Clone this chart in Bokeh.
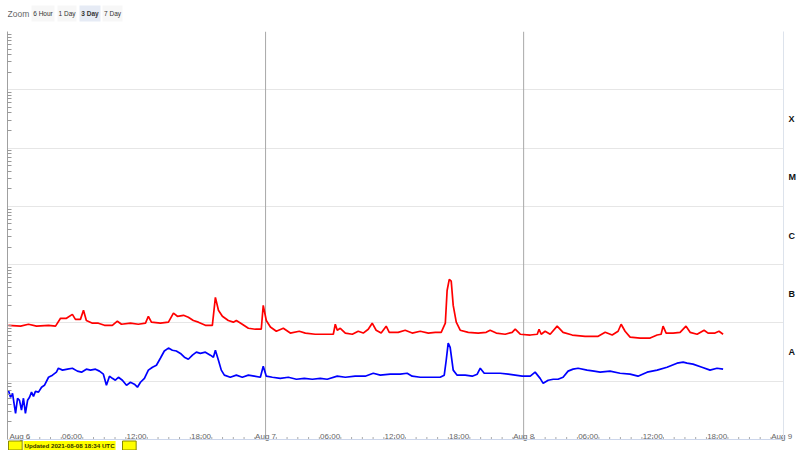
import pandas as pd
from bokeh.plotting import figure
from bokeh.layouts import column
from bokeh.models import (Range1d, FixedTicker, CustomJSTickFormatter, LogAxis, Span, Label)
from bokeh.core.properties import value
from bokeh.embed import file_html
from bokeh.resources import INLINE

# ---------------- data ----------------
long_times = [
    "2021-08-06 00:05", "2021-08-06 01:13", "2021-08-06 01:57", "2021-08-06 02:42", "2021-08-06 03:49",
    "2021-08-06 04:28", "2021-08-06 04:56", "2021-08-06 05:29", "2021-08-06 06:02", "2021-08-06 06:19",
    "2021-08-06 06:47", "2021-08-06 07:04", "2021-08-06 07:20", "2021-08-06 07:54", "2021-08-06 08:27",
    "2021-08-06 09:01", "2021-08-06 09:45", "2021-08-06 10:13", "2021-08-06 10:36", "2021-08-06 11:26",
    "2021-08-06 12:10", "2021-08-06 12:50", "2021-08-06 13:06", "2021-08-06 13:23", "2021-08-06 14:13",
    "2021-08-06 14:58", "2021-08-06 15:26", "2021-08-06 15:48", "2021-08-06 16:22", "2021-08-06 16:49",
    "2021-08-06 17:17", "2021-08-06 17:45", "2021-08-06 18:24", "2021-08-06 19:03", "2021-08-06 19:20",
    "2021-08-06 19:37", "2021-08-06 19:59", "2021-08-06 20:32", "2021-08-06 21:00", "2021-08-06 21:17",
    "2021-08-06 21:50", "2021-08-06 22:24", "2021-08-06 23:03", "2021-08-06 23:36", "2021-08-06 23:47",
    "2021-08-07 00:04", "2021-08-07 00:27", "2021-08-07 01:00", "2021-08-07 01:39", "2021-08-07 02:18",
    "2021-08-07 03:08", "2021-08-07 03:42", "2021-08-07 04:37", "2021-08-07 05:33", "2021-08-07 06:18",
    "2021-08-07 06:29", "2021-08-07 06:40", "2021-08-07 06:57", "2021-08-07 07:25", "2021-08-07 08:04",
    "2021-08-07 08:37", "2021-08-07 09:05", "2021-08-07 09:33", "2021-08-07 09:55", "2021-08-07 10:17",
    "2021-08-07 10:45", "2021-08-07 11:13", "2021-08-07 11:30", "2021-08-07 12:20", "2021-08-07 12:59",
    "2021-08-07 13:38", "2021-08-07 14:23", "2021-08-07 15:08", "2021-08-07 15:47", "2021-08-07 16:20",
    "2021-08-07 16:43", "2021-08-07 16:53", "2021-08-07 17:05", "2021-08-07 17:16", "2021-08-07 17:27",
    "2021-08-07 17:44", "2021-08-07 18:06", "2021-08-07 18:51", "2021-08-07 19:46", "2021-08-07 20:31",
    "2021-08-07 20:53", "2021-08-07 21:27", "2021-08-07 22:17", "2021-08-07 22:56", "2021-08-07 23:13",
    "2021-08-07 23:41", "2021-08-08 00:37", "2021-08-08 01:16", "2021-08-08 01:26", "2021-08-08 01:38",
    "2021-08-08 02:00", "2021-08-08 02:28", "2021-08-08 03:07", "2021-08-08 03:40", "2021-08-08 04:31",
    "2021-08-08 05:43", "2021-08-08 06:56", "2021-08-08 07:35", "2021-08-08 08:14", "2021-08-08 08:47",
    "2021-08-08 09:04", "2021-08-08 09:26", "2021-08-08 09:54", "2021-08-08 10:50", "2021-08-08 11:46",
    "2021-08-08 12:25", "2021-08-08 12:47", "2021-08-08 12:58", "2021-08-08 13:15", "2021-08-08 13:54",
    "2021-08-08 14:33", "2021-08-08 15:06", "2021-08-08 15:29", "2021-08-08 16:08", "2021-08-08 16:47",
    "2021-08-08 17:09", "2021-08-08 17:48", "2021-08-08 18:10", "2021-08-08 18:33",
]
long_flux = [
    9.1e-8, 8.8e-8, 9.5e-8, 8.8e-8, 9.1e-8,
    8.8e-8, 1.2e-7, 1.2e-7, 1.4e-7, 1.15e-7,
    1.15e-7, 1.65e-7, 1.1e-7, 9.9e-8, 9.9e-8,
    9.1e-8, 9.1e-8, 1.07e-7, 9.5e-8, 9.9e-8,
    9.5e-8, 9.9e-8, 1.3e-7, 1.03e-7, 9.9e-8,
    1.03e-7, 1.47e-7, 1.3e-7, 1.35e-7, 1.25e-7,
    1.1e-7, 1.03e-7, 9.1e-8, 9.1e-8, 2.75e-7,
    1.65e-7, 1.3e-7, 1.1e-7, 1.03e-7, 1.1e-7,
    9.5e-8, 8.1e-8, 7.8e-8, 7.8e-8, 2.0e-7,
    1.1e-7, 8.5e-8, 7.2e-8, 8.1e-8, 6.7e-8,
    7.2e-8, 6.7e-8, 6.4e-8, 6.4e-8, 6.4e-8,
    9.5e-8, 7.5e-8, 8.1e-8, 6.7e-8, 6.4e-8,
    7.2e-8, 6.7e-8, 7.8e-8, 9.9e-8, 7.5e-8,
    6.7e-8, 8.8e-8, 6.9e-8, 6.9e-8, 7.5e-8,
    6.7e-8, 7.2e-8, 6.7e-8, 6.9e-8, 6.9e-8,
    9.9e-8, 3.6e-7, 5.6e-7, 5.2e-7, 2.0e-7,
    1.03e-7, 7.5e-8, 6.9e-8, 6.7e-8, 6.9e-8,
    7.5e-8, 6.7e-8, 6.4e-8, 6.9e-8, 7.8e-8,
    6.4e-8, 6.2e-8, 6.4e-8, 7.8e-8, 6.4e-8,
    7.2e-8, 6.4e-8, 8.8e-8, 6.9e-8, 6.2e-8,
    5.9e-8, 5.9e-8, 6.9e-8, 6.2e-8, 7.2e-8,
    9.5e-8, 7.2e-8, 5.7e-8, 5.5e-8, 5.5e-8,
    6.2e-8, 6.4e-8, 8.8e-8, 6.7e-8, 6.7e-8,
    6.9e-8, 8.8e-8, 6.9e-8, 6.4e-8, 7.5e-8,
    6.7e-8, 6.7e-8, 7.2e-8, 6.4e-8,
]

short_times = [
    "2021-08-06 00:05", "2021-08-06 00:17", "2021-08-06 00:28", "2021-08-06 00:45", "2021-08-06 00:56",
    "2021-08-06 01:07", "2021-08-06 01:18", "2021-08-06 01:29", "2021-08-06 01:40", "2021-08-06 01:52",
    "2021-08-06 02:03", "2021-08-06 02:14", "2021-08-06 02:25", "2021-08-06 02:36", "2021-08-06 02:53",
    "2021-08-06 03:10", "2021-08-06 03:26", "2021-08-06 03:49", "2021-08-06 04:11", "2021-08-06 04:33",
    "2021-08-06 04:44", "2021-08-06 05:07", "2021-08-06 05:35", "2021-08-06 06:02", "2021-08-06 06:30",
    "2021-08-06 06:53", "2021-08-06 07:20", "2021-08-06 07:43", "2021-08-06 08:11", "2021-08-06 08:33",
    "2021-08-06 08:55", "2021-08-06 09:12", "2021-08-06 09:29", "2021-08-06 09:45", "2021-08-06 10:02",
    "2021-08-06 10:19", "2021-08-06 10:41", "2021-08-06 11:04", "2021-08-06 11:26", "2021-08-06 11:48",
    "2021-08-06 12:05", "2021-08-06 12:22", "2021-08-06 12:44", "2021-08-06 13:06", "2021-08-06 13:29",
    "2021-08-06 13:51", "2021-08-06 14:13", "2021-08-06 14:35", "2021-08-06 14:58", "2021-08-06 15:20",
    "2021-08-06 15:42", "2021-08-06 16:05", "2021-08-06 16:27", "2021-08-06 16:49", "2021-08-06 17:12",
    "2021-08-06 17:34", "2021-08-06 17:56", "2021-08-06 18:24", "2021-08-06 18:52", "2021-08-06 19:09",
    "2021-08-06 19:20", "2021-08-06 19:37", "2021-08-06 19:53", "2021-08-06 20:10", "2021-08-06 20:43",
    "2021-08-06 21:17", "2021-08-06 21:50", "2021-08-06 22:24", "2021-08-06 22:57", "2021-08-06 23:31",
    "2021-08-06 23:47", "2021-08-07 00:04", "2021-08-07 00:38", "2021-08-07 01:22", "2021-08-07 02:07",
    "2021-08-07 02:52", "2021-08-07 03:36", "2021-08-07 04:21", "2021-08-07 05:05", "2021-08-07 05:44",
    "2021-08-07 06:40", "2021-08-07 07:25", "2021-08-07 08:20", "2021-08-07 09:16", "2021-08-07 10:01",
    "2021-08-07 10:40", "2021-08-07 11:36", "2021-08-07 12:31", "2021-08-07 13:10", "2021-08-07 13:38",
    "2021-08-07 14:23", "2021-08-07 15:19", "2021-08-07 16:14", "2021-08-07 16:37", "2021-08-07 16:48",
    "2021-08-07 16:59", "2021-08-07 17:10", "2021-08-07 17:27", "2021-08-07 17:49", "2021-08-07 18:34",
    "2021-08-07 19:13", "2021-08-07 19:41", "2021-08-07 19:58", "2021-08-07 20:20", "2021-08-07 21:04",
    "2021-08-07 21:49", "2021-08-07 22:34", "2021-08-07 23:13", "2021-08-07 23:52", "2021-08-08 00:37",
    "2021-08-08 01:04", "2021-08-08 01:32", "2021-08-08 01:49", "2021-08-08 02:17", "2021-08-08 02:45",
    "2021-08-08 03:12", "2021-08-08 03:40", "2021-08-08 04:08", "2021-08-08 04:36", "2021-08-08 05:04",
    "2021-08-08 05:54", "2021-08-08 06:33", "2021-08-08 07:07", "2021-08-08 08:02", "2021-08-08 08:58",
    "2021-08-08 09:54", "2021-08-08 10:38", "2021-08-08 11:29", "2021-08-08 12:25", "2021-08-08 13:20",
    "2021-08-08 14:16", "2021-08-08 14:50", "2021-08-08 15:12", "2021-08-08 15:45", "2021-08-08 16:35",
    "2021-08-08 17:20", "2021-08-08 17:59", "2021-08-08 18:33",
]
short_flux = [
    7.0e-9, 5.3e-9, 6.2e-9, 2.8e-9, 5.1e-9,
    4.7e-9, 3.2e-9, 5.1e-9, 2.8e-9, 4.7e-9,
    5.3e-9, 6.5e-9, 5.5e-9, 6.7e-9, 6.5e-9,
    7.9e-9, 8.5e-9, 1.17e-8, 1.27e-8, 1.43e-8,
    1.67e-8, 1.55e-8, 1.61e-8, 1.67e-8, 1.49e-8,
    1.43e-8, 1.61e-8, 1.55e-8, 1.61e-8, 1.49e-8,
    1.32e-8, 8.5e-9, 1.22e-8, 1.12e-8, 1.04e-8,
    1.17e-8, 1.04e-8, 8.5e-9, 9.6e-9, 8.9e-9,
    7.9e-9, 9.6e-9, 1.12e-8, 1.55e-8, 1.74e-8,
    1.88e-8, 2.48e-8, 3.3e-8, 3.7e-8, 3.4e-8,
    3.3e-8, 3.0e-8, 2.58e-8, 2.38e-8, 2.8e-8,
    3.15e-8, 3.0e-8, 3.15e-8, 2.8e-8, 2.58e-8,
    3.4e-8, 2.29e-8, 1.55e-8, 1.27e-8, 1.17e-8,
    1.27e-8, 1.17e-8, 1.27e-8, 1.22e-8, 1.17e-8,
    1.8e-8, 1.22e-8, 1.17e-8, 1.12e-8, 1.17e-8,
    1.08e-8, 1.12e-8, 1.08e-8, 1.12e-8, 1.08e-8,
    1.22e-8, 1.17e-8, 1.22e-8, 1.22e-8, 1.37e-8,
    1.27e-8, 1.32e-8, 1.32e-8, 1.37e-8, 1.22e-8,
    1.17e-8, 1.17e-8, 1.17e-8, 1.27e-8, 2.29e-8,
    4.5e-8, 3.8e-8, 1.55e-8, 1.27e-8, 1.27e-8,
    1.22e-8, 1.32e-8, 1.67e-8, 1.37e-8, 1.37e-8,
    1.37e-8, 1.32e-8, 1.27e-8, 1.22e-8, 1.22e-8,
    1.43e-8, 1.12e-8, 9.2e-9, 1.04e-8, 1.08e-8,
    1.08e-8, 1.17e-8, 1.49e-8, 1.61e-8, 1.67e-8,
    1.55e-8, 1.49e-8, 1.43e-8, 1.49e-8, 1.37e-8,
    1.32e-8, 1.22e-8, 1.43e-8, 1.55e-8, 1.74e-8,
    2.04e-8, 2.12e-8, 2.04e-8, 1.96e-8, 1.74e-8,
    1.55e-8, 1.67e-8, 1.61e-8,
]

tick_times = [
    "2021-08-06 00:00", "2021-08-06 06:00", "2021-08-06 12:00", "2021-08-06 18:00",
    "2021-08-07 00:00", "2021-08-07 06:00", "2021-08-07 12:00", "2021-08-07 18:00",
    "2021-08-08 00:00", "2021-08-08 06:00", "2021-08-08 12:00", "2021-08-08 18:00",
    "2021-08-09 00:00",
]
tick_labels = ["Aug 6", "06:00", "12:00", "18:00", "Aug 7", "06:00", "12:00", "18:00",
               "Aug 8", "06:00", "12:00", "18:00", "Aug 9"]
day_lines = ["2021-08-07 00:00", "2021-08-08 00:00"]
class_names = ["A", "B", "C", "M", "X"]
class_floor = [1e-8, 1e-7, 1e-6, 1e-5, 1e-4]
y_min, y_max = 1e-9, 1e-2
zoom_buttons = ["6 Hour", "1 Day", "3 Day", "7 Day"]
selected_button = "3 Day"
updated_text = "Updated 2021-08-08 18:34 UTC"

FONT = "Liberation Sans"
W = 800
BL, BR = 7, 17                     # left / right borders shared by both rows
TOP_H, MAIN_H = 31, 419
PLOT_H = 408                       # height of the flux area (y_min .. y_max)
FOOT = MAIN_H - PLOT_H             # room under the flux area for the stamp

# ---------------- top strip: zoom buttons ----------------
top = figure(width=W, height=TOP_H, x_range=Range1d(BL, W - BR), y_range=Range1d(TOP_H, 0),
             x_axis_location=None, y_axis_location=None,
             output_backend="svg", toolbar_location=None,
             min_border_left=BL, min_border_right=BR, min_border_top=0, min_border_bottom=0)
top.grid.visible = False
top.outline_line_color = None
top.text(x=[7], y=[13], text=["Zoom"], text_font=value(FONT), text_font_size="8.5px",
         text_color="#666666", text_baseline="middle", text_align="left")
btn_left = [31, 57, 79, 102]
btn_right = [54, 76, 100, 122]
btn_fill = ["#e6ebf5" if b == selected_button else "#f7f7f7" for b in zoom_buttons]
top.quad(left=btn_left, right=btn_right, top=[5] * 4, bottom=[21] * 4,
         fill_color=btn_fill, line_color=None)
top.text(x=[(a + b) / 2 for a, b in zip(btn_left, btn_right)], y=[13] * 4, text=zoom_buttons,
         text_font=value(FONT), text_font_size="6.5px",
         text_font_style=["bold" if b == selected_button else "normal" for b in zoom_buttons],
         text_color="#333333", text_baseline="middle", text_align="center")

# ---------------- main chart ----------------
decades_span = 7 * MAIN_H / PLOT_H            # log-decades covered by whole frame
y_start = y_max / 10 ** decades_span
p = figure(width=W, height=MAIN_H, x_axis_type="datetime", y_axis_type="log",
           x_range=Range1d(pd.Timestamp("2021-08-06 00:00"), pd.Timestamp("2021-08-09 00:10")),
           y_range=Range1d(y_start, y_max),
           output_backend="svg", toolbar_location=None,
           min_border_left=BL, min_border_right=BR, min_border_top=0, min_border_bottom=0)
p.outline_line_color = None
p.background_fill_color = "white"
p.border_fill_color = "white"

decades = [10.0 ** e for e in range(-9, -1)]
minors = [m * 10.0 ** e for e in range(-9, -2) for m in range(2, 10)]
yt = FixedTicker(ticks=decades, minor_ticks=minors)
ya = p.yaxis[0]
ya.ticker = yt
ya.bounds = (y_min, y_max)
ya.formatter = CustomJSTickFormatter(code="return ''")
ya.major_label_standoff = 0
ya.major_tick_out = 0
ya.major_tick_in = 0
ya.minor_tick_out = 0
ya.minor_tick_in = 4
ya.minor_tick_line_color = "#999999"
ya.axis_line_color = "#a0a0a0"
p.ygrid.ticker = FixedTicker(ticks=decades[1:])
p.ygrid.grid_line_color = "#e6e6e6"
p.xgrid.visible = False

# bottom edge of the flux area (x axis line) and hourly tick marks
p.add_layout(Span(location=y_min, dimension="width", line_color="#ccd6eb", line_width=1))
hours = pd.date_range(tick_times[0], tick_times[-1], freq="1h")
tick_len = 10 ** (2.5 * 7 / PLOT_H)
p.segment(x0=hours, y0=[y_min] * len(hours), x1=hours, y1=[y_min * tick_len] * len(hours),
          line_color="#aaaaaa", line_width=1)

# tick labels come from the (invisible-line) datetime axis, lifted above the flux floor
tick_ms = [pd.Timestamp(t).value // 10**6 for t in tick_times]
xa = p.xaxis[0]
xa.ticker = FixedTicker(ticks=tick_ms)
xa.formatter = CustomJSTickFormatter(args=dict(tvals=tick_ms, tlabels=tick_labels), code="""
    let best = 0, d = Infinity;
    for (let i = 0; i < tvals.length; i++) {
        const dd = Math.abs(tvals[i] - tick);
        if (dd < d) { d = dd; best = i; }
    }
    const pad = best == 0 ? '\\u00a0'.repeat(4) : '';
    return pad + tlabels[best];""")
xa.major_label_standoff = -(FOOT + 8)
xa.major_label_text_font = FONT
xa.major_label_text_font_size = "8px"
xa.major_label_text_color = "#666666"
xa.axis_line_color = None
xa.major_tick_line_color = None
xa.minor_tick_line_color = None
xa.major_tick_out = 0
xa.major_tick_in = 0

mids = [f * 10 ** 0.5 for f in class_floor]
ra = LogAxis(ticker=FixedTicker(ticks=mids), bounds=(y_min, y_max),
             formatter=CustomJSTickFormatter(args=dict(mids=mids, names=class_names), code="""
                 const lg = Math.log10(tick);
                 let best = 0, d = 1e9;
                 for (let i = 0; i < mids.length; i++) {
                     const dd = Math.abs(Math.log10(mids[i]) - lg);
                     if (dd < d) { d = dd; best = i; }
                 }
                 return names[best];"""))
ra.major_tick_out = 0
ra.major_tick_in = 0
ra.minor_tick_out = 0
ra.minor_tick_in = 0
ra.axis_line_color = "#dde3ec"
ra.major_label_standoff = 5
ra.major_label_text_font = FONT
ra.major_label_text_font_size = "9px"
ra.major_label_text_font_style = "bold"
ra.major_label_text_color = "#111111"
p.add_layout(ra, "right")

# day separators over the flux area only
days = pd.to_datetime(day_lines)
p.segment(x0=days, y0=[y_min] * len(days), x1=days, y1=[y_max] * len(days),
          line_color="#a8a8a8", line_width=1)

p.line(pd.to_datetime(long_times), long_flux, line_color="#ff0000", line_width=1.7)
p.line(pd.to_datetime(short_times), short_flux, line_color="#0000ff", line_width=1.7)

# updated stamp in the foot of the frame (screen units from frame's bottom-left)
stamp_y = 5
for bx in (1, 115):
    p.add_layout(Label(x=bx, y=stamp_y, x_units="screen", y_units="screen",
                       text="\u00a0" * 6, text_font=FONT, text_font_size="7px",
                       text_baseline="middle", text_align="left",
                       background_fill_color="#ffff00", border_line_color="#8a8a00",
                       padding=1))
p.add_layout(Label(x=16, y=stamp_y, x_units="screen", y_units="screen", text=updated_text,
                   text_font=FONT, text_font_size="6.2px", text_font_style="bold",
                   text_color="#333300", text_baseline="middle", text_align="left",
                   background_fill_color="#ffff00", padding=1))

layout = column(top, p, spacing=0)
open("out.html", "w").write(file_html(layout, INLINE))
